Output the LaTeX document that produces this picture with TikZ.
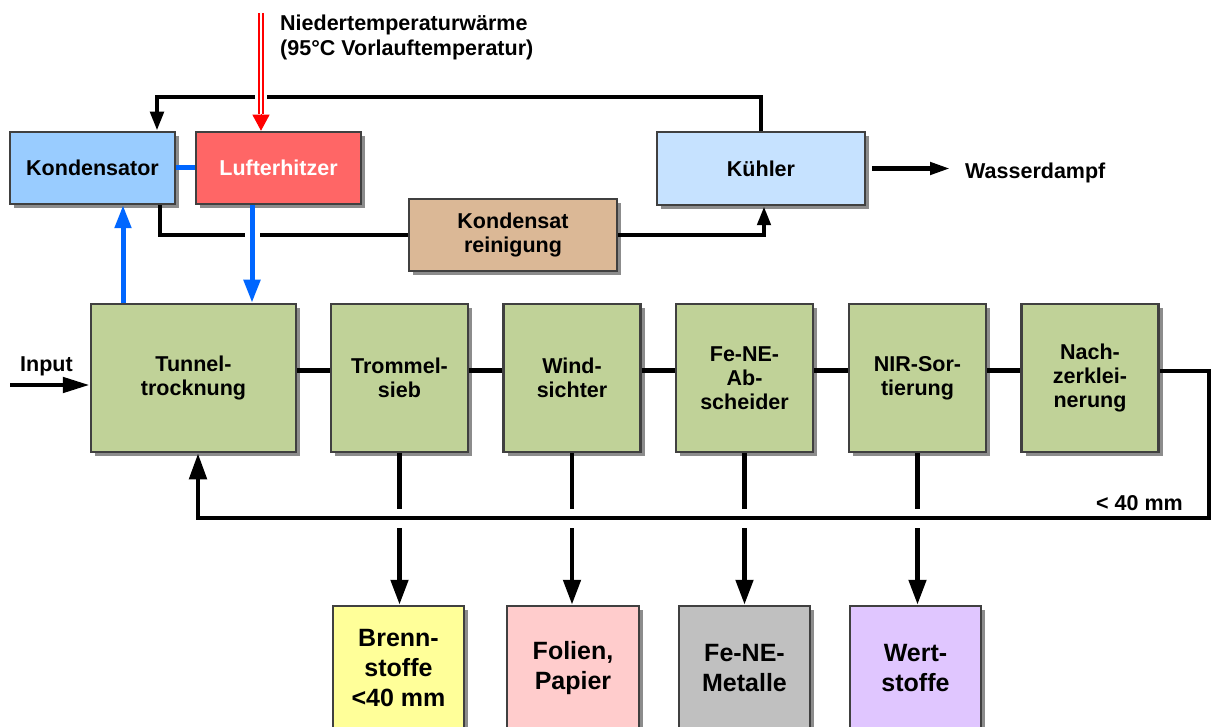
\documentclass[tikz,border=0pt]{standalone}
\usepackage{fontspec}
\setmainfont{Liberation Sans}
\usetikzlibrary{arrows.meta,shadows,calc}
\definecolor{cBorder}{RGB}{64,64,64}
\definecolor{cKond}{RGB}{153,204,255}
\definecolor{cLuft}{RGB}{255,102,102}
\definecolor{cKuehl}{RGB}{198,226,255}
\definecolor{cKrein}{RGB}{219,184,150}
\definecolor{cGreen}{RGB}{192,210,152}
\definecolor{cBrenn}{RGB}{255,255,153}
\definecolor{cFolien}{RGB}{255,204,204}
\definecolor{cMetall}{RGB}{192,192,192}
\definecolor{cWert}{RGB}{224,198,255}
\definecolor{cBlue}{RGB}{0,102,255}
\begin{document}
\begin{tikzpicture}[x=1pt,y=-1pt,
  box/.style={draw=cBorder, line width=2.5pt, inner sep=0pt, align=center,
    font=\bfseries\fontsize{21.5}{24}\selectfont,
    drop shadow={shadow xshift=4pt, shadow yshift=-4pt, fill=black!45, opacity=1}},
  proc/.style={box, fill=cGreen, minimum width=137pt, minimum height=148pt},
  outbox/.style={box, minimum width=131pt, minimum height=124pt,
    font=\bfseries\fontsize{25}{30}\selectfont},
  lbl/.style={inner sep=0pt, font=\bfseries\fontsize{21.5}{25}\selectfont},
  blk/.style={draw=black, line width=4.8pt},
  bl/.style={draw=cBlue, line width=5pt}]
\useasboundingbox (0,0) rectangle (1211,727);

% upper nodes
\node[box, fill=cKond, minimum width=165pt, minimum height=72pt] (kond) at (92.5,168) {Kondensator};
\node[box, fill=cLuft, text=white, minimum width=165pt, minimum height=72pt] (luft) at (278.5,168) {Lufterhitzer};
\node[box, fill=cKuehl, minimum width=208pt, minimum height=73pt] (kuehl) at (761,168.5) {Kühler};
\node[box, fill=cKrein, minimum width=208pt, minimum height=72pt] (krein) at (513,235) {Kondensat\\reinigung};

% process chain
\node[proc, minimum width=205pt] (tunnel) at (193.5,378) {Tunnel-\\trocknung};
\node[proc] (trommel) at (399.5,378) {Trommel-\\sieb};
\node[proc] (wind) at (572,378) {Wind-\\sichter};
\node[proc] (fene) at (744.5,378) {Fe-NE-\\Ab-\\scheider};
\node[proc] (nir) at (917.5,378) {NIR-Sor-\\tierung};
\node[proc] (nach) at (1090,378) {Nach-\\zerklei-\\nerung};

% outputs
\node[outbox, fill=cBrenn] (brenn) at (398.5,668) {Brenn-\\stoffe\\<40 mm};
\node[outbox, fill=cFolien, minimum width=132pt] (folien) at (573,668) {Folien,\\Papier};
\node[outbox, fill=cMetall] (metall) at (744.5,668) {Fe-NE-\\Metalle};
\node[outbox, fill=cWert] (wert) at (915.5,668) {Wert-\\stoffe};

% labels
\node[lbl, anchor=north west, align=left] (heatlbl) at (280,15) {Niedertemperaturwärme\\(95°C Vorlauftemperatur)};
\node[lbl, anchor=base west] (inp) at (20,372) {Input};
\node[lbl, anchor=base west] (wd) at (965,179) {Wasserdampf};
\node[lbl, anchor=base east] (mm) at (1183,510) {< 40 mm};

% helper coordinates
\coordinate (ktop) at (157,97);
\coordinate (heat) at (261,13);
\coordinate (heatend) at (261,114);
\coordinate (bu) at (123,0);
\coordinate (bd) at (252,0);
\coordinate (kx) at (160,0);
\coordinate (kux) at (764,0);
\coordinate (inA) at (10,385);
\coordinate (ch) at (0,371);
\coordinate (rr) at (1209,518);
\coordinate (rx) at (198,0);

% top loop
\draw[blk, line width=4.5pt, -{Triangle[length=19pt,width=13pt]}] (kuehl.north) |- (ktop) -- (ktop |- kond.north);
% heat input
\draw[white, line width=12pt] (heat) -- (heatend);
\draw[red, line width=1.5pt, double=white, double distance=2.4pt] (heat) -- (heatend);
\draw[red, line width=1pt, -{Triangle[length=16pt,width=17pt]}] (heatend) -- (heatend |- luft.north);

% condensate path
\draw[blk, line width=4.5pt] (kx |- kond.south) |- (krein.west);
\draw[white, line width=9pt] ($(bd |- krein.west)+(-7.5,0)$) -- ($(bd |- krein.west)+(7.5,0)$);
\draw[blk, line width=4.5pt, -{Triangle[length=19pt,width=13pt]}] (krein.east) -| (kux |- kuehl.south);

% blue air
\draw[bl] (kond.east) -- (luft.west);
\draw[bl, -{Triangle[length=23pt,width=16pt]}] (bu |- tunnel.north) -- (bu |- kond.south);
\draw[bl, -{Triangle[length=23pt,width=16pt]}] (bd |- luft.south) -- (bd |- tunnel.north);

% Wasserdampf
\draw[blk, line width=4.5pt, -{Triangle[length=20pt,width=12pt]}] ([xshift=6pt]kuehl.east) -- ([xshift=-15pt]kuehl.east -| wd.west);

% input
\draw[blk, -{Triangle[length=27pt,width=15pt]}] (inA) -- (inA -| tunnel.west);

% chain
\foreach \a/\b in {tunnel/trommel, trommel/wind, wind/fene, fene/nir, nir/nach}
  \draw[blk, line width=5pt] (ch -| \a.east) -- (ch -| \b.west);

% outputs down
\foreach \a/\b in {trommel/brenn, wind/folien, fene/metall, nir/wert} {
  \draw[blk, -{Triangle[length=25pt,width=17pt]}] (\a.south) -- (\a.south |- \b.north);
  \draw[white, line width=10pt] ($(\a.south |- rr)+(0,-9.5)$) -- ($(\a.south |- rr)+(0,9.5)$);
}

% return loop
\draw[blk, -{Triangle[length=26pt,width=17pt]}] (ch -| nach.east) -| (rr) -- (rr -| rx) -- (rx |- tunnel.south);
\end{tikzpicture}
\end{document}
